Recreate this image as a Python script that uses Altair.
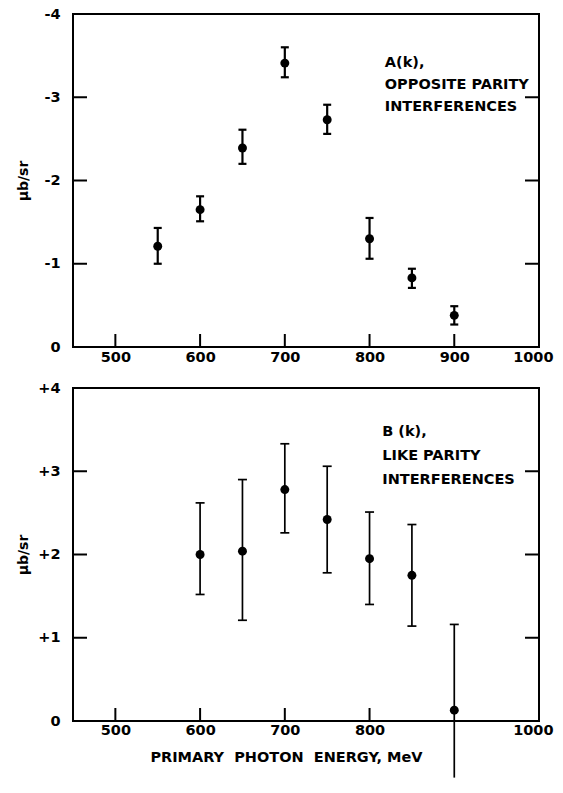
import altair as alt
import pandas as pd

FONT = "DejaVu Sans"

# ---- Panel A: opposite parity interferences ----
a_energy = [550, 600, 650, 700, 750, 800, 850, 900]
a_value = [-1.21, -1.65, -2.39, -3.41, -2.73, -1.30, -0.83, -0.38]
a_low = [-1.00, -1.51, -2.20, -3.24, -2.56, -1.06, -0.71, -0.27]
a_high = [-1.43, -1.81, -2.61, -3.60, -2.91, -1.55, -0.94, -0.49]
a_cap_energy = a_energy + a_energy
a_cap_value = a_low + a_high
a_xticks = [500, 600, 700, 800, 900]
a_yticks = [-1, -2, -3]
a_xlabels = [500, 600, 700, 800, 900, 1000]
a_ylabels = [0, -1, -2, -3, -4]
a_notes = ["A(k),", "OPPOSITE PARITY", "INTERFERENCES"]
a_note_x = [818, 818, 818]
a_note_y = [-3.41, -3.15, -2.88]

# ---- Panel B: like parity interferences ----
b_energy = [600, 650, 700, 750, 800, 850, 900]
b_value = [2.00, 2.04, 2.78, 2.42, 1.95, 1.75, 0.13]
b_low = [1.52, 1.21, 2.26, 1.78, 1.40, 1.14, -0.68]
b_high = [2.62, 2.90, 3.33, 3.06, 2.51, 2.36, 1.16]
# caps: the 900 MeV bar runs off the bottom of the figure (no lower cap)
b_cap_energy = [600, 650, 700, 750, 800, 850, 600, 650, 700, 750, 800, 850, 900]
b_cap_value = [1.52, 1.21, 2.26, 1.78, 1.40, 1.14, 2.62, 2.90, 3.33, 3.06, 2.51, 2.36, 1.16]
b_xticks = [500, 600, 700, 800]
b_yticks = [1, 2, 3]
b_xlabels = [500, 600, 700, 800, 1000]
b_ylabels = [0, 1, 2, 3, 4]
b_notes = ["B (k),", "LIKE PARITY", "INTERFERENCES"]
b_note_x = [815, 815, 815]
b_note_y = [3.47, 3.18, 2.90]

W, H = 466, 333
TICK = 14
FS = 14.5


def panel(energy, value, low, high, cap_e, cap_v, xticks, yticks, xlabels, ylabels,
          notes, note_x, note_y, ydomain, yreverse, label_expr, xtitle,
          cap_w, stroke_w, x_label_pad):
    xs = alt.Scale(domain=[450, 1000], nice=False, zero=False)
    ys = alt.Scale(domain=ydomain, nice=False, zero=False, reverse=yreverse)

    pts = pd.DataFrame({"energy": energy, "value": value, "low": low, "high": high})
    caps = pd.DataFrame({"energy": cap_e, "value": cap_v})
    xt = pd.DataFrame({"energy": xticks})
    yt = pd.DataFrame({"value": yticks})
    nt = pd.DataFrame({"energy": note_x, "value": note_y, "label": notes})

    x_axis_kwargs = dict(values=xlabels, format="d", ticks=False, domain=False,
                         grid=False, labelPadding=x_label_pad, labelFont=FONT,
                         labelFontSize=FS, labelFontWeight="bold",
                         labelColor="black", labelFlush=True, labelFlushOffset=14)
    if xtitle:
        x_axis_kwargs.update(titleFont=FONT, titleFontSize=FS, titleFontWeight="bold",
                             titleColor="black", titlePadding=14, titleX=213)
    x_axis = alt.Axis(**x_axis_kwargs)
    y_axis = alt.Axis(values=ylabels, ticks=False, domain=False,
                      grid=False, labelPadding=13, labelFont=FONT, labelFontSize=FS,
                      labelFontWeight="bold",
                      labelColor="black", labelExpr=label_expr,
                      titleFont=FONT, titleFontSize=14, titleFontWeight="bold",
                      titleColor="black", titleX=-43)

    if xtitle:
        xenc = alt.X("energy:Q", scale=xs, axis=x_axis, title=xtitle)
    else:
        xenc = alt.X("energy:Q", scale=xs, axis=x_axis, title=None)
    yenc = alt.Y("value:Q", scale=ys, axis=y_axis, title="μb/sr")

    points = alt.Chart(pts).mark_point(filled=True, color="black", opacity=1, size=80).encode(
        x=xenc, y=yenc,
    )
    bars = alt.Chart(pts).mark_rule(color="black", strokeWidth=stroke_w, clip=False).encode(
        x="energy:Q", y="low:Q", y2="high:Q",
    )
    capm = alt.Chart(caps).mark_tick(color="black", orient="horizontal", size=cap_w,
                                     thickness=stroke_w, opacity=1, clip=False).encode(
        x="energy:Q", y="value:Q",
    )
    xtk = alt.Chart(xt).mark_rule(color="black", strokeWidth=2).encode(
        x="energy:Q", y=alt.value(H), y2=alt.value(H - TICK + 1),
    )
    ytl = alt.Chart(yt).mark_rule(color="black", strokeWidth=2).encode(
        y="value:Q", x=alt.value(0), x2=alt.value(TICK),
    )
    ytr = alt.Chart(yt).mark_rule(color="black", strokeWidth=2).encode(
        y="value:Q", x=alt.value(W), x2=alt.value(W - TICK),
    )
    txt = alt.Chart(nt).mark_text(align="left", baseline="middle", font=FONT,
                                  fontSize=FS, fontWeight="bold", color="black").encode(
        x="energy:Q", y="value:Q", text="label:N",
    )
    return alt.layer(points, bars, capm, xtk, ytl, ytr, txt).properties(width=W, height=H)


top = panel(a_energy, a_value, a_low, a_high, a_cap_energy, a_cap_value,
            a_xticks, a_yticks, a_xlabels, a_ylabels,
            a_notes, a_note_x, a_note_y, [-4, 0], True,
            "datum.value < 0 ? '-' + abs(datum.value) : '0'", "", 8, 2.2, 3)
bottom = panel(b_energy, b_value, b_low, b_high, b_cap_energy, b_cap_value,
               b_xticks, b_yticks, b_xlabels, b_ylabels,
               b_notes, b_note_x, b_note_y, [0, 4], False,
               "datum.value > 0 ? '+' + datum.value : '0'",
               "PRIMARY\u00a0 PHOTON\u00a0 ENERGY,\u00a0MeV", 9, 1.7, 2)

chart = alt.vconcat(top, bottom, spacing=41, bounds="flush").properties(
    padding={"left": 7, "top": -3, "right": 0, "bottom": 0}
).configure_view(stroke="black", strokeWidth=2)

chart.save("out.html", embed_options={"renderer": "svg", "actions": False})
